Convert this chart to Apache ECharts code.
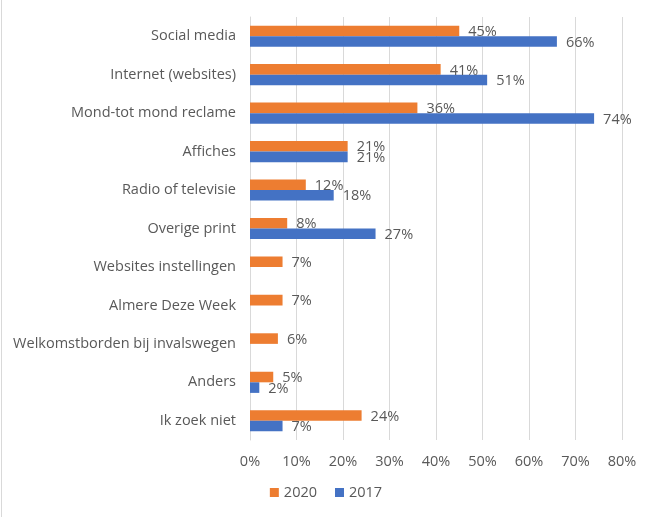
<!DOCTYPE html>
<html>
<head>
<meta charset="utf-8">
<script src="https://cdn.jsdelivr.net/npm/echarts@6/dist/echarts.min.js"></script>
<style>
  html, body { margin: 0; padding: 0; background: #fff; }
  #chart { width: 648px; height: 517px; margin-left: 1px; border-left: 1px solid #d9d9d9; }
</style>
</head>
<body>
<div id="chart"></div>
<script>
// categories top to bottom
const categories = [
  'Social media', 'Internet (websites)', 'Mond-tot mond reclame', 'Affiches',
  'Radio of televisie', 'Overige print', 'Websites instellingen', 'Almere Deze Week',
  'Welkomstborden bij invalswegen', 'Anders', 'Ik zoek niet'
]
const values2020 = [45, 41, 36, 21, 12, 8, 7, 7, 6, 5, 24]
const values2017 = [66, 51, 74, 21, 18, 27, null, null, null, 2, 7]
const xTicks = [0, 10, 20, 30, 40, 50, 60, 70, 80]

const textColor = '#595959'
const font = 'Open Sans'
const fontSize = 14.5

const chart = echarts.init(document.getElementById('chart'))

const labelStyle = {
  show: true,
  position: 'right',
  distance: 9,
  color: textColor,
  fontFamily: font,
  fontSize: fontSize,
  formatter: p => (p.value == null ? '' : p.value + '%')
}

chart.setOption({
  animation: false,
  grid: { left: 248, right: 28, top: 17, bottom: 77 },
  legend: {
    bottom: 12,
    left: 'center',
    itemWidth: 9,
    itemHeight: 9,
    itemGap: 18,
    icon: 'rect',
    textStyle: { color: textColor, fontFamily: font, fontSize: fontSize },
    data: ['2020', '2017']
  },
  xAxis: {
    type: 'value',
    min: xTicks[0],
    max: xTicks[xTicks.length - 1],
    interval: 10,
    axisLine: { show: false },
    axisTick: { show: false },
    axisLabel: { color: textColor, fontFamily: font, fontSize: fontSize, margin: 14, formatter: '{value}%' },
    splitLine: { lineStyle: { color: '#d9d9d9', width: 1 } }
  },
  yAxis: {
    type: 'category',
    inverse: true,
    data: categories,
    axisLine: { show: true, lineStyle: { color: '#d9d9d9' } },
    axisTick: { show: false },
    axisLabel: { color: textColor, fontFamily: font, fontSize: fontSize, margin: 14 }
  },
  series: [
    {
      name: '2020',
      type: 'bar',
      data: values2020,
      itemStyle: { color: '#ed7d31' },
      barGap: '0%',
      barCategoryGap: '45%',
      label: { ...labelStyle, offset: [0, 1] }
    },
    {
      name: '2017',
      type: 'bar',
      data: values2017,
      itemStyle: { color: '#4472c4' },
      barGap: '0%',
      barCategoryGap: '45%',
      label: { ...labelStyle, offset: [0, 1] }
    }
  ]
})
</script>
</body>
</html>
